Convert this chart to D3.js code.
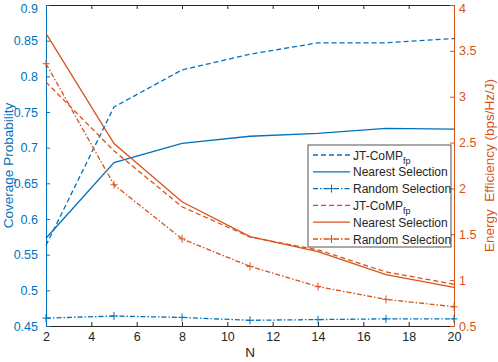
<!DOCTYPE html>
<html>
<head>
<meta charset="utf-8">
<script src="https://cdn.jsdelivr.net/npm/d3@7"></script>
<style>
  body { margin: 0; background: #fff; }
  text { font-family: "Liberation Sans", Arial, sans-serif; }
</style>
</head>
<body>
<svg id="chart"></svg>
<script>
// x values
const nValues = [2, 5, 8, 11, 14, 17, 20];
// coverage probability (left axis)
const covJT = [0.563, 0.757, 0.809, 0.831, 0.847, 0.847, 0.853];
const covNearest = [0.573, 0.679, 0.706, 0.716, 0.720, 0.727, 0.726];
const covRandom = [0.461, 0.464, 0.462, 0.458, 0.459, 0.460, 0.460];
// energy efficiency (right axis)
const eeJT = [3.16, 2.41, 1.80, 1.47, 1.33, 1.09, 0.955];
const eeNearest = [3.69, 2.49, 1.855, 1.475, 1.31, 1.06, 0.92];
const eeRandom = [3.36, 2.04, 1.45, 1.15, 0.93, 0.79, 0.71];
const xTicks = [2, 4, 6, 8, 10, 12, 14, 16, 18, 20];
const leftTicks = [0.45, 0.5, 0.55, 0.6, 0.65, 0.7, 0.75, 0.8, 0.85, 0.9];
const rightTicks = [0.5, 1, 1.5, 2, 2.5, 3, 3.5, 4];

const W = 498, H = 362;
const margin = { top: 5, right: 44, bottom: 36, left: 46 };
const blue = '#0072BD', orange = '#D95319', gray = '#262626';

const svg = d3.select('#chart').attr('width', W).attr('height', H);
const width = W - margin.left - margin.right;
const height = H - margin.top - margin.bottom;

const x = d3.scaleLinear().domain([2, 20]).range([0, width]);
const yL = d3.scaleLinear().domain([0.45, 0.9]).range([height, 0]);
const yR = d3.scaleLinear().domain([0.5, 4]).range([height, 0]);

const chart = svg.append('g')
    .attr('transform', `translate(${margin.left},${margin.top})`);

// axes (ticks inward like matlab)
const fmt = d => String(d);
const xAxisB = chart.append('g')
    .attr('transform', `translate(0,${height})`)
    .call(d3.axisBottom(x).tickValues(xTicks).tickFormat(fmt).tickSize(-4).tickSizeOuter(0).tickPadding(6));
xAxisB.select('.domain').attr('stroke', gray);
xAxisB.selectAll('line').attr('stroke', gray);
xAxisB.selectAll('text').attr('fill', gray).style('font-size', '12.5px');

const xAxisT = chart.append('g')
    .call(d3.axisTop(x).tickValues(xTicks).tickFormat('').tickSize(-4).tickSizeOuter(0));
xAxisT.select('.domain').attr('stroke', gray);
xAxisT.selectAll('line').attr('stroke', gray);

const yAxisL = chart.append('g')
    .call(d3.axisLeft(yL).tickValues(leftTicks).tickFormat(fmt).tickSize(-4).tickSizeOuter(0).tickPadding(8));
yAxisL.select('.domain').attr('stroke', blue);
yAxisL.selectAll('line').attr('stroke', blue);
yAxisL.selectAll('text').attr('fill', blue).style('font-size', '12.5px');

const yAxisR = chart.append('g')
    .attr('transform', `translate(${width},0)`)
    .call(d3.axisRight(yR).tickValues(rightTicks).tickFormat(fmt).tickSize(-4).tickSizeOuter(0).tickPadding(5));
yAxisR.select('.domain').attr('stroke', orange);
yAxisR.selectAll('line').attr('stroke', orange);
yAxisR.selectAll('text').attr('fill', orange).style('font-size', '12.5px');

// keep the top tick labels inside the page
yAxisL.selectAll('.tick text').filter(d => d === 0.9).attr('dy', '0.6em');
yAxisR.selectAll('.tick text').filter(d => d === 4).attr('dy', '0.6em');

// axis labels
svg.append('text')
    .attr('transform', `translate(13,${margin.top + height / 2}) rotate(-90)`)
    .attr('text-anchor', 'middle')
    .attr('fill', blue).style('font-size', '13.5px')
    .text('Coverage Probability');

svg.append('text')
    .attr('transform', `translate(494,${margin.top + height / 2}) rotate(-90)`)
    .attr('text-anchor', 'middle')
    .attr('fill', orange).style('font-size', '13.5px')
    .style('white-space', 'pre')
    .text('Energy  Efficiency (bps/Hz/J)');

svg.append('text')
    .attr('x', margin.left + width / 2).attr('y', 357)
    .attr('text-anchor', 'middle')
    .attr('fill', gray).style('font-size', '13.5px')
    .text('N');

// series
const series = [
  { vals: covJT, y: yL, color: blue, dash: '5,3', marker: false },
  { vals: covNearest, y: yL, color: blue, dash: null, marker: false },
  { vals: covRandom, y: yL, color: blue, dash: '5,2,1.5,2', marker: true },
  { vals: eeJT, y: yR, color: orange, dash: '5,3', marker: false },
  { vals: eeNearest, y: yR, color: orange, dash: null, marker: false },
  { vals: eeRandom, y: yR, color: orange, dash: '5,2,1.5,2', marker: true }
];

const plot = chart.append('g');
series.forEach(s => {
  const line = d3.line().x((d, i) => x(nValues[i])).y(d => s.y(d));
  plot.append('path')
      .datum(s.vals)
      .attr('d', line)
      .attr('fill', 'none')
      .attr('stroke', s.color)
      .attr('stroke-width', 1.3)
      .attr('stroke-dasharray', s.dash);
  if (s.marker) {
    s.vals.forEach((v, i) => {
      const px = x(nValues[i]), py = s.y(v);
      plot.append('path')
          .attr('d', `M${px - 3.5},${py}H${px + 3.5}M${px},${py - 4}V${py + 4}`)
          .attr('stroke', s.color).attr('stroke-width', 1);
    });
  }
});

// legend
const legend = svg.append('g');
const lx = 308, ly = 145, lw = 143, lh = 102;
legend.append('rect')
    .attr('x', lx).attr('y', ly).attr('width', lw).attr('height', lh)
    .attr('fill', '#fff').attr('stroke', gray).attr('stroke-width', 0.8);
const legendNames = ['JT-CoMP', 'Nearest Selection', 'Random Selection',
                     'JT-CoMP', 'Nearest Selection', 'Random Selection'];
series.forEach((s, i) => {
  const yy = ly + 10 + i * 16.8;
  legend.append('line')
      .attr('x1', lx + 5).attr('x2', lx + 42).attr('y1', yy).attr('y2', yy)
      .attr('stroke', s.color).attr('stroke-width', 1.3)
      .attr('stroke-dasharray', s.dash);
  if (s.marker) {
    legend.append('path')
        .attr('d', `M${lx + 20},${yy}H${lx + 27}M${lx + 23.5},${yy - 4}V${yy + 4}`)
        .attr('stroke', s.color).attr('stroke-width', 1);
  }
  const t = legend.append('text')
      .attr('x', lx + 45).attr('y', yy + 4.5)
      .attr('fill', gray).style('font-size', '12px')
      .text(legendNames[i]);
  if (legendNames[i] === 'JT-CoMP') {
    t.append('tspan').attr('dy', 4).style('font-size', '9px').text('fp');
  }
});
</script>
</body>
</html>
